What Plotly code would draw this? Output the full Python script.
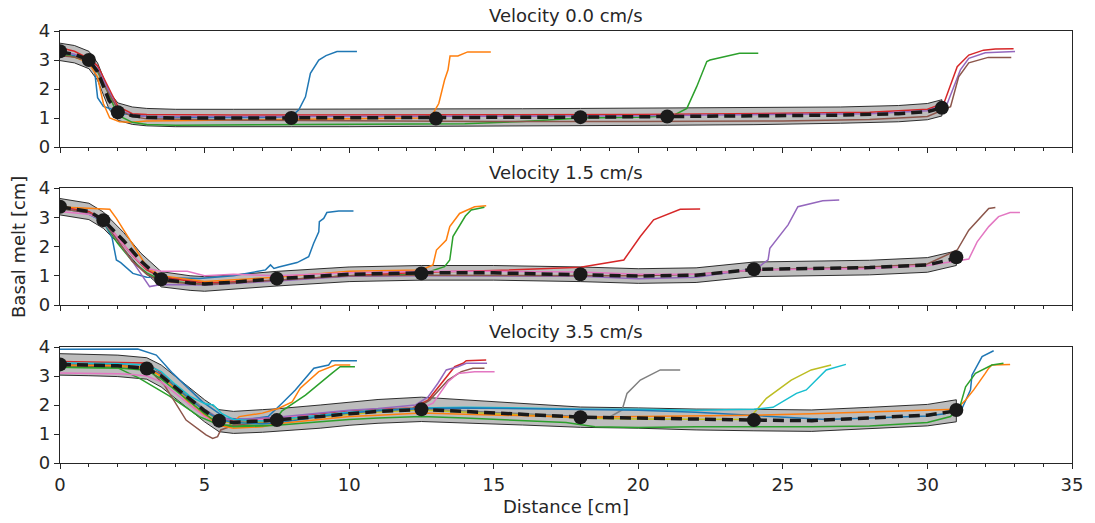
import plotly.graph_objects as go

# ---------------- data ----------------
titles = ["Velocity 0.0 cm/s", "Velocity 1.5 cm/s", "Velocity 3.5 cm/s"]
colors = ["#1f77b4", "#ff7f0e", "#2ca02c", "#d62728", "#9467bd",
          "#8c564b", "#e377c2", "#7f7f7f", "#bcbd22", "#17becf"]

# Panel 1 (0.0 cm/s)
p1_mean_x = [0, 0.5, 1, 1.3, 1.5, 1.7, 2, 2.5, 3, 4, 6, 8, 10, 13, 16, 18, 21, 24, 27, 29, 30, 30.5]
p1_mean_y = [3.28, 3.2, 3.0, 2.6, 2.1, 1.6, 1.22, 1.08, 1.03, 1.0, 1.0, 1.0, 1.0, 1.0, 1.02, 1.03, 1.05, 1.07, 1.1, 1.15, 1.22, 1.35]
p1_spread = [0.3, 0.3, 0.3, 0.3, 0.3, 0.3, 0.3, 0.3, 0.3, 0.3, 0.3, 0.3, 0.3, 0.3, 0.3, 0.3, 0.3, 0.3, 0.28, 0.28, 0.28, 0.28]
p1_dots_x = [0, 1, 2, 8, 13, 18, 21, 30.5]
p1_dots_y = [3.3, 3.0, 1.2, 1.0, 0.98, 1.03, 1.05, 1.35]
p1_runs = [
    ([0, 0.5, 1, 1.2, 1.3, 1.5, 1.8, 2.2, 3, 5, 7, 8, 8.26, 8.49, 8.66, 8.95, 9.2, 9.58, 10.27],
     [3.25, 3.15, 2.95, 2.6, 1.7, 1.4, 1.3, 1.15, 1.05, 1.02, 1.02, 1.05, 1.28, 1.73, 2.54, 3.0, 3.15, 3.29, 3.29]),
    ([0, 0.5, 1, 1.3, 1.5, 1.72, 2.06, 2.5, 3, 6, 10, 12.5, 12.9, 13.1, 13.3, 13.42, 13.49, 13.76, 14.1, 14.9],
     [3.2, 3.1, 2.9, 2.4, 1.5, 1.0, 0.87, 0.85, 0.9, 0.93, 0.95, 1.0, 1.15, 1.5, 2.31, 2.66, 3.14, 3.14, 3.28, 3.28]),
    ([0, 0.5, 1, 1.3, 1.6, 2, 2.5, 3, 4, 8, 12, 14, 16, 18, 20, 21.2, 21.68, 22.02, 22.37, 22.48, 23.5, 24.15],
     [3.2, 3.1, 2.95, 2.6, 2.0, 1.1, 0.85, 0.78, 0.75, 0.76, 0.78, 0.8, 0.88, 1.0, 1.03, 1.08, 1.33, 2.08, 2.95, 3.0, 3.23, 3.23]),
    ([0, 0.5, 1, 1.3, 1.6, 2, 2.5, 3, 6, 10, 15, 20, 25, 28, 30, 30.57, 31.03, 31.43, 31.94, 32.35, 32.98],
     [3.42, 3.3, 3.05, 2.8, 2.2, 1.4, 1.15, 1.12, 1.1, 1.1, 1.1, 1.12, 1.16, 1.2, 1.3, 1.51, 2.77, 3.17, 3.34, 3.38, 3.39]),
    ([0, 0.5, 1, 1.3, 1.6, 2, 2.5, 3, 6, 10, 15, 20, 25, 28, 30, 30.69, 31.14, 31.43, 32.0, 33.03],
     [3.3, 3.2, 3.0, 2.7, 2.1, 1.3, 1.1, 1.05, 1.05, 1.05, 1.06, 1.08, 1.12, 1.15, 1.25, 1.51, 2.66, 3.06, 3.25, 3.29]),
    ([0, 0.5, 1, 1.3, 1.6, 2, 2.5, 3, 6, 10, 15, 20, 25, 28, 30, 30.8, 31.08, 31.43, 32.1, 32.9],
     [3.15, 3.1, 2.95, 2.65, 2.0, 1.3, 1.05, 0.97, 0.93, 0.9, 0.88, 0.88, 0.9, 0.95, 1.05, 1.39, 2.42, 2.9, 3.09, 3.09]),
]

# Panel 2 (1.5 cm/s)
p2_mean_x = [0, 1, 1.5, 2.2, 2.8, 3.5, 4.5, 5, 6, 7.5, 10, 12.5, 15, 18, 20, 22, 24, 26, 28, 30, 31]
p2_mean_y = [3.36, 3.2, 2.9, 2.2, 1.5, 0.88, 0.75, 0.72, 0.78, 0.9, 1.05, 1.1, 1.1, 1.05, 0.99, 1.02, 1.22, 1.25, 1.28, 1.37, 1.6]
p2_spread = [0.28, 0.28, 0.28, 0.28, 0.27, 0.26, 0.25, 0.25, 0.25, 0.25, 0.25, 0.25, 0.25, 0.25, 0.25, 0.25, 0.25, 0.25, 0.25, 0.25, 0.25]
p2_dots_x = [0, 1.5, 3.5, 7.5, 12.5, 18, 24, 31]
p2_dots_y = [3.36, 2.9, 0.88, 0.9, 1.08, 1.05, 1.22, 1.63]
p2_runs = [
    ([0, 0.5, 1, 1.5, 1.8, 1.95, 2.1, 2.52, 3, 4, 4.82, 6, 7.11, 7.28, 7.4, 7.57, 8.2, 8.6, 8.77, 8.95, 8.97, 9.12, 9.23, 9.64, 10.15],
     [3.3, 3.25, 3.1, 2.85, 2.3, 1.54, 1.45, 1.08, 0.95, 0.92, 0.91, 1.0, 1.2, 1.37, 1.25, 1.3, 1.45, 1.65, 2.1, 2.5, 2.85, 2.96, 3.16, 3.21, 3.21]),
    ([0, 1, 1.72, 1.95, 2.5, 3.04, 3.5, 5, 7.5, 10, 12.5, 12.9, 13.02, 13.36, 13.48, 13.82, 14.34, 14.74],
     [3.35, 3.3, 3.27, 2.96, 2.1, 1.25, 1.0, 0.8, 0.95, 1.15, 1.2, 1.37, 1.88, 2.22, 2.68, 3.13, 3.36, 3.39]),
    ([0, 1, 1.5, 2, 2.5, 3, 3.5, 5, 7.5, 10, 12.5, 13.3, 13.48, 13.59, 14.02, 14.22, 14.68],
     [3.3, 3.15, 2.85, 2.1, 1.5, 1.1, 0.85, 0.7, 0.85, 1.0, 1.05, 1.31, 1.54, 2.34, 3.04, 3.25, 3.34]),
    ([0, 1, 1.5, 2, 2.5, 3, 3.5, 5, 7.5, 10, 12.5, 15, 18, 19.5, 20.07, 20.53, 21.45, 22.14],
     [3.35, 3.2, 2.9, 2.3, 1.7, 1.2, 0.95, 0.75, 0.85, 1.0, 1.12, 1.18, 1.29, 1.54, 2.34, 2.91, 3.27, 3.28]),
    ([0, 1, 1.5, 2, 2.5, 3.1, 3.5, 5, 7.5, 10, 12.5, 15, 18, 20, 22, 24.09, 24.49, 24.55, 25.18, 25.52, 26.38, 26.95],
     [3.3, 3.15, 2.85, 2.2, 1.5, 0.63, 0.7, 0.68, 0.82, 0.98, 1.0, 1.0, 0.98, 0.9, 0.95, 1.25, 1.54, 1.94, 2.74, 3.36, 3.56, 3.59]),
    ([0, 1, 1.5, 2, 2.5, 3, 3.5, 5, 7.5, 10, 12.5, 15, 18, 20, 22, 24, 26, 28, 30, 31.03, 31.43, 32.12, 32.35],
     [3.3, 3.15, 2.9, 2.2, 1.5, 1.05, 0.8, 0.7, 0.85, 1.0, 1.02, 1.02, 1.02, 1.0, 1.05, 1.2, 1.25, 1.3, 1.4, 1.88, 2.56, 3.3, 3.33]),
    ([0, 1, 1.5, 2, 2.5, 3, 3.5, 4.4, 5, 6, 7.5, 10, 12.5, 15, 18, 20, 22, 24, 26, 28, 30, 31.2, 31.43, 31.72, 32.12, 32.46, 32.86, 33.2],
     [3.2, 3.1, 2.9, 2.3, 1.7, 1.25, 1.15, 1.15, 1.0, 1.05, 1.0, 1.1, 1.15, 1.15, 1.13, 1.05, 1.05, 1.2, 1.22, 1.25, 1.35, 1.52, 1.57, 2.16, 2.68, 3.02, 3.16, 3.16]),
]

# Panel 3 (3.5 cm/s)
p3_mean_x = [0, 1, 2, 3, 3.5, 4, 4.5, 5, 5.5, 6, 7, 7.5, 9, 10, 11, 12.5, 14, 16, 18, 20, 22, 24, 26, 28, 30, 31]
p3_mean_y = [3.4, 3.38, 3.35, 3.26, 3.0, 2.6, 2.2, 1.8, 1.46, 1.4, 1.45, 1.48, 1.6, 1.7, 1.78, 1.85, 1.78, 1.68, 1.58, 1.55, 1.5, 1.48, 1.46, 1.55, 1.65, 1.8]
p3_spread = [0.37, 0.37, 0.37, 0.37, 0.38, 0.38, 0.38, 0.38, 0.38, 0.38, 0.39, 0.39, 0.4, 0.4, 0.41, 0.42, 0.4, 0.37, 0.35, 0.35, 0.36, 0.37, 0.37, 0.37, 0.37, 0.38]
p3_dots_x = [0, 3, 5.5, 7.5, 12.5, 18, 24, 31]
p3_dots_y = [3.4, 3.26, 1.46, 1.48, 1.85, 1.58, 1.48, 1.83]
p3_runs = [
    ([0, 1, 2, 2.69, 3.33, 3.9, 4.93, 5.74, 6.5, 7.2, 7.68, 8.14, 8.78, 9.29, 9.4, 10.27],
     [3.92, 3.92, 3.92, 3.93, 3.72, 3.09, 2.11, 1.54, 1.5, 1.6, 2.06, 2.52, 3.27, 3.38, 3.53, 3.53]),
    ([0, 1, 2, 3, 3.5, 4, 4.5, 5.2, 5.8, 6.2, 7, 7.57, 8.03, 8.31, 8.95, 9.52, 10.04],
     [3.35, 3.35, 3.33, 3.3, 3.0, 2.6, 2.0, 1.5, 1.25, 1.6, 1.72, 1.89, 2.11, 2.58, 3.15, 3.38, 3.38]),
    ([0, 1, 2, 2.75, 3.79, 4.82, 5.51, 6.5, 7.3, 7.68, 8.49, 9.4, 9.69, 10.2],
     [3.3, 3.3, 3.28, 2.92, 2.31, 1.6, 1.31, 1.3, 1.3, 1.8, 2.34, 3.09, 3.32, 3.32]),
    ([0, 1, 2, 3, 3.5, 4, 4.5, 5, 5.5, 6, 7, 7.5, 9, 10, 11, 12.2, 12.73, 13.3, 13.65, 13.94, 14.05, 14.74],
     [3.5, 3.48, 3.47, 3.45, 3.1, 2.65, 2.2, 1.8, 1.5, 1.45, 1.5, 1.55, 1.7, 1.8, 1.85, 1.9, 2.17, 2.86, 3.32, 3.44, 3.53, 3.55]),
    ([0, 1, 2, 3, 3.5, 4, 4.5, 5, 5.5, 6, 7, 7.5, 9, 10, 11, 12.3, 12.73, 13.07, 13.36, 13.76, 14.05, 14.77],
     [3.42, 3.42, 3.4, 3.3, 3.05, 2.65, 2.25, 1.85, 1.55, 1.5, 1.55, 1.58, 1.72, 1.82, 1.88, 2.0, 2.28, 2.75, 3.21, 3.32, 3.44, 3.44]),
    ([0, 1, 2, 3, 3.6, 4.36, 5.05, 5.28, 5.45, 5.56, 6, 7, 7.5, 9, 10, 11, 12.3, 12.79, 13.42, 13.88, 14.28, 14.68],
     [3.35, 3.35, 3.33, 3.3, 2.7, 1.48, 0.97, 0.85, 0.91, 1.14, 1.3, 1.4, 1.45, 1.65, 1.75, 1.82, 1.88, 2.17, 2.86, 3.15, 3.27, 3.27]),
    ([0, 1, 2, 2.5, 3, 3.5, 4, 4.5, 5, 5.5, 6, 7, 7.5, 9, 10, 11, 12.4, 12.9, 13.42, 13.76, 14.34, 15.03],
     [3.1, 3.1, 3.08, 3.05, 3.0, 2.8, 2.4, 2.0, 1.6, 1.4, 1.4, 1.5, 1.55, 1.65, 1.75, 1.8, 1.85, 2.06, 2.8, 3.09, 3.15, 3.15]),
    ([0, 1, 2, 3, 3.5, 4, 4.5, 5, 5.5, 6, 7, 7.5, 9, 10, 11, 12.5, 14, 16, 18, 19, 19.44, 19.61, 20.07, 20.76, 21.45],
     [3.4, 3.4, 3.38, 3.3, 3.05, 2.65, 2.25, 1.85, 1.5, 1.42, 1.45, 1.5, 1.62, 1.72, 1.8, 1.87, 1.8, 1.7, 1.6, 1.58, 1.83, 2.4, 2.86, 3.21, 3.21]),
    ([0, 1, 2, 3, 3.5, 4, 4.5, 5, 5.5, 6, 7, 7.5, 9, 10, 11, 12.5, 14, 16, 18, 20, 22, 23.8, 24.09, 24.43, 25.29, 25.98, 26.67],
     [3.38, 3.38, 3.35, 3.25, 3.0, 2.6, 2.2, 1.8, 1.45, 1.38, 1.42, 1.46, 1.58, 1.68, 1.76, 1.83, 1.75, 1.65, 1.55, 1.52, 1.5, 1.5, 1.83, 2.23, 2.86, 3.21, 3.38]),
    ([0, 1, 2, 3, 3.5, 4, 4.5, 5, 5.3, 5.6, 6, 7, 7.5, 9, 10, 11, 12.5, 14, 16, 18, 20, 22, 24, 24.66, 25.47, 25.81, 26.5, 27.18],
     [3.45, 3.45, 3.43, 3.38, 3.15, 2.7, 2.3, 2.05, 2.0, 1.7, 1.5, 1.45, 1.5, 1.65, 1.75, 1.82, 1.9, 1.92, 1.9, 1.85, 1.85, 1.82, 1.85, 1.92, 2.4, 2.52, 3.21, 3.4]),
    ([0, 1, 2, 3, 3.5, 4, 4.5, 5, 5.5, 6, 7, 7.5, 9, 10, 11, 12.5, 14, 16, 18, 20, 22, 24, 25.5, 26.5, 28, 30, 30.6, 31.2, 31.49, 31.54, 31.89, 32.29],
     [3.4, 3.4, 3.38, 3.3, 3.05, 2.6, 2.2, 1.8, 1.5, 1.4, 1.35, 1.38, 1.6, 1.72, 1.8, 1.88, 1.9, 1.88, 1.85, 1.82, 1.75, 1.65, 1.55, 1.5, 1.55, 1.62, 1.7, 1.89, 2.52, 3.03, 3.67, 3.87]),
    ([0, 1, 2, 3, 3.5, 4, 4.5, 5, 5.5, 6, 7, 7.5, 9, 10, 11, 12.5, 14, 16, 18, 20, 22, 24, 26, 28, 30, 31, 31.32, 31.6, 32.0, 32.12, 32.23, 32.86],
     [3.38, 3.38, 3.36, 3.3, 3.0, 2.55, 2.1, 1.7, 1.3, 1.2, 1.25, 1.35, 1.5, 1.6, 1.65, 1.72, 1.68, 1.62, 1.58, 1.6, 1.62, 1.65, 1.7, 1.75, 1.8, 1.85, 2.17, 2.52, 3.09, 3.27, 3.38, 3.4]),
    ([0, 1, 2, 3, 3.5, 4, 4.5, 5, 5.5, 6, 7, 7.5, 9, 10, 11, 12.5, 14, 16, 17.5, 18.5, 20, 22, 24, 26, 28, 30, 30.8, 31.14, 31.32, 31.66, 32.23, 32.63],
     [3.3, 3.3, 3.28, 3.2, 2.9, 2.5, 2.1, 1.7, 1.35, 1.25, 1.28, 1.3, 1.42, 1.5, 1.55, 1.6, 1.55, 1.45, 1.4, 1.25, 1.22, 1.25, 1.25, 1.25, 1.28, 1.4, 1.6, 2.0, 2.63, 3.09, 3.38, 3.44]),
]

panels = [
    (p1_mean_x, p1_mean_y, p1_spread, p1_dots_x, p1_dots_y, p1_runs),
    (p2_mean_x, p2_mean_y, p2_spread, p2_dots_x, p2_dots_y, p2_runs),
    (p3_mean_x, p3_mean_y, p3_spread, p3_dots_x, p3_dots_y, p3_runs),
]

x_ticks = [0, 5, 10, 15, 20, 25, 30, 35]
y_ticks = [0, 1, 2, 3, 4]

# ---------------- figure ----------------
W, H = 1095, 523
ML, MR, MT, MB = 60, 18, 31, 60
plot_h = H - MT - MB
rows_px = [(31, 147), (188, 305), (347, 463)]
domains = [[(H - MB - b) / plot_h, (H - MB - t) / plot_h] for (t, b) in rows_px]
domains = [[max(0, d0), min(1, d1)] for d0, d1 in domains]

TXT = "#262626"
FONT = "DejaVu Sans"
FS = 18
fig = go.Figure()

for i, (mx, my, sp, dx, dy, runs) in enumerate(panels):
    xa = "x" if i == 0 else f"x{i+1}"
    ya = "y" if i == 0 else f"y{i+1}"
    upper = [m + s for m, s in zip(my, sp)]
    lower = [m - s for m, s in zip(my, sp)]
    fig.add_trace(go.Scatter(x=mx + mx[::-1], y=upper + lower[::-1], fill="toself",
                             fillcolor="#bdbdbd", line=dict(color="#1a1a1a", width=0.9),
                             mode="lines", xaxis=xa, yaxis=ya, showlegend=False, hoverinfo="skip"))
    for k, (rx, ry) in enumerate(runs):
        fig.add_trace(go.Scatter(x=rx, y=ry, mode="lines",
                                 line=dict(color=colors[k % 10], width=1.5),
                                 xaxis=xa, yaxis=ya, showlegend=False))
    fig.add_trace(go.Scatter(x=mx, y=my, mode="lines",
                             line=dict(color="#1a1a1a", width=3.5, dash="11px,6px"),
                             xaxis=xa, yaxis=ya, showlegend=False))
    fig.add_trace(go.Scatter(x=dx, y=dy, mode="markers",
                             marker=dict(color="#1a1a1a", size=14),
                             xaxis=xa, yaxis=ya, showlegend=False))

axis_common = dict(showline=True, mirror=True, linecolor=TXT, linewidth=1.2,
                   ticks="outside", tickcolor=TXT, ticklen=5, tickwidth=1,
                   showgrid=False, zeroline=False,
                   tickfont=dict(family=FONT, size=FS, color=TXT))
layout = dict(width=W, height=H, margin=dict(l=ML, r=MR, t=MT, b=MB),
              paper_bgcolor="white", plot_bgcolor="white", showlegend=False)
for i in range(3):
    xk = "xaxis" if i == 0 else f"xaxis{i+1}"
    yk = "yaxis" if i == 0 else f"yaxis{i+1}"
    ya = "y" if i == 0 else f"y{i+1}"
    xa = "x" if i == 0 else f"x{i+1}"
    layout[xk] = dict(axis_common, range=[0, 35], anchor=ya, domain=[0, 1],
                      tickvals=x_ticks, showticklabels=(i == 2),
                      minor=dict(dtick=1, ticks="outside", ticklen=3, tickcolor=TXT, tickwidth=1))
    layout[yk] = dict(axis_common, range=[0, 4], anchor=xa, domain=domains[i],
                      tickvals=y_ticks)
fig.update_layout(**layout)

ann = []
for i in range(3):
    ann.append(dict(text=titles[i], xref="paper", yref="paper", x=0.5, y=domains[i][1],
                    xanchor="center", yanchor="bottom", yshift=3, showarrow=False,
                    font=dict(family=FONT, size=FS, color=TXT)))
ann.append(dict(text="Distance [cm]", xref="paper", yref="paper", x=0.5, y=0,
                xanchor="center", yanchor="top", yshift=-31, showarrow=False,
                font=dict(family=FONT, size=FS, color=TXT)))
ann.append(dict(text="Basal melt [cm]", xref="paper", yref="paper", x=0, y=0.5,
                xanchor="center", yanchor="middle", xshift=-42, textangle=-90, showarrow=False,
                font=dict(family=FONT, size=FS, color=TXT)))
fig.update_layout(annotations=ann)

fig.write_html("out.html")
